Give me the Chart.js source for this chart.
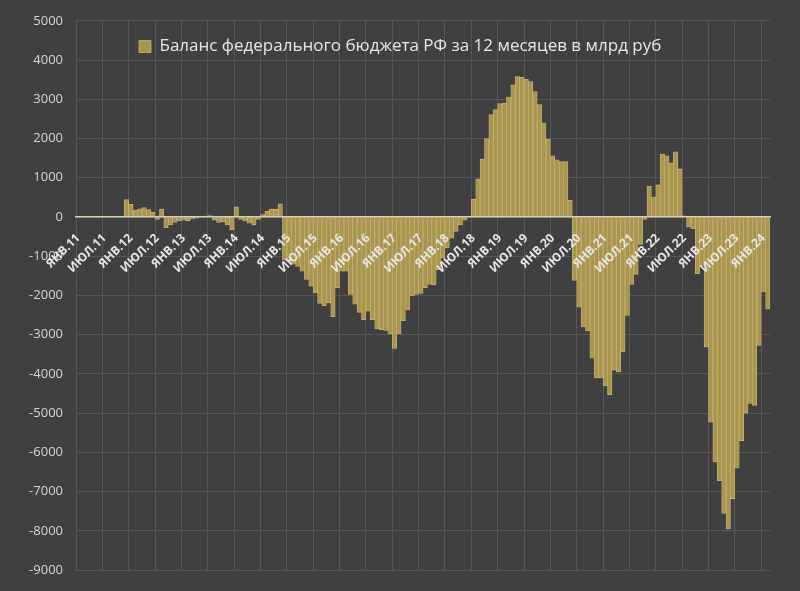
<!DOCTYPE html>
<html>
<head>
<meta charset="utf-8">
<script src="https://cdn.jsdelivr.net/npm/chart.js@4"></script>
<style>
  html, body { margin: 0; padding: 0; background: #404040; }
  #wrap { width: 800px; height: 591px; }
</style>
</head>
<body>
<div id="wrap"><canvas id="budget" width="800" height="591"></canvas></div>
<script>
// months / years for the category axis
const MONTHS = ['ЯНВ', 'ФЕВ', 'МАР', 'АПР', 'МАЙ', 'ИЮН', 'ИЮЛ', 'АВГ', 'СЕН', 'ОКТ', 'НОЯ', 'ДЕК'];
const YEARS = ['11', '12', '13', '14', '15', '16', '17', '18', '19', '20', '21', '22', '23', '24'];
const LAST_MONTH = 2; // data ends in feb 2024

// 12-month federal budget balance, bn rub (jan 2011 .. feb 2024)
const y2011 = [null, null, null, null, null, null, null, null, null, null, null, 444];
const y2012 = [326, 175, 208, 242, 192, 120, -60, 200, -270, -200, -140, -100];
const y2013 = [-80, -90, -50, -30, 10, 25, 35, -80, -140, -120, -200, -320];
const y2014 = [260, -60, -100, -160, -200, -60, 65, 150, 200, 200, 335, -1100];
const y2015 = [-1130, -1200, -1260, -1380, -1590, -1760, -1930, -2200, -2260, -2180, -2540, -1800];
const y2016 = [-1380, -1380, -1970, -2220, -2430, -2620, -2400, -2620, -2850, -2870, -2890, -2980];
const y2017 = [-3350, -2980, -2640, -2370, -2010, -1970, -1950, -1800, -1720, -1730, -1340, -1040];
const y2018 = [-790, -540, -370, -200, -80, 0, 452, 973, 1477, 1998, 2611, 2737];
const y2019 = [2888, 2905, 3056, 3367, 3577, 3560, 3510, 3451, 3199, 2863, 2401, 1981];
const y2020 = [1561, 1460, 1410, 1410, 427, -1614, -2300, -2800, -2900, -3600, -4100, -4100];
const y2021 = [-4300, -4530, -3900, -3950, -3440, -2510, -1715, -1460, -700, -60, 788, 511];
const y2022 = [822, 1603, 1561, 1376, 1662, 1225, 30, -260, -300, -1446, -1253, -3311];
const y2023 = [-5226, -6240, -6720, -7553, -7948, -7175, -6400, -5700, -5000, -4750, -4800, -3269];
const y2024 = [-1908, -2345];

const balance = [].concat(y2011, y2012, y2013, y2014, y2015, y2016, y2017,
  y2018, y2019, y2020, y2021, y2022, y2023, y2024);

const categories = [];
YEARS.forEach((yy, k) => {
  MONTHS.forEach((m, j) => {
    if (k === YEARS.length - 1 && j >= LAST_MONTH) return;
    categories.push(m + '.' + yy);
  });
});

const LABEL_STEP = 6; // only jan and jul are labelled
const seriesName = 'Баланс федерального бюджета РФ за 12 месяцев в млрд руб';

const barFill = '#aa954f';
const barEdge = '#c6b577';
const gridCol = '#575757';
const textCol = '#e6e6e6';

// put the legend inside the plot, like in the excel chart
const legendInPlot = {
  id: 'legendInPlot',
  afterLayout(chart) {
    const lg = chart.legend;
    if (!lg) return;
    const w = lg.width, h = lg.height;
    lg.left = 129;
    lg.top = 28;
    lg.right = lg.left + w;
    lg.bottom = lg.top + h;
  }
};

new Chart(document.getElementById('budget'), {
  type: 'bar',
  data: {
    labels: categories,
    datasets: [{
      label: seriesName,
      data: balance,
      backgroundColor: barFill,
      borderColor: barEdge,
      borderWidth: 0.8,
      borderSkipped: false,
      barPercentage: 1,
      categoryPercentage: 1
    }]
  },
  options: {
    responsive: false,
    animation: false,
    layout: { padding: { left: 0, right: 30, top: 20, bottom: 15 } },
    plugins: {
      tooltip: { enabled: false },
      legend: {
        position: 'chartArea',
        align: 'start',
        labels: {
          color: textCol,
          boxWidth: 12,
          boxHeight: 12,
          padding: 10,
          font: { family: 'Open Sans', size: 17 }
        }
      }
    },
    scales: {
      x: {
        position: { y: 0 },
        grid: {
          offset: true,
          drawTicks: false,
          color: (c) => (c.index % LABEL_STEP === 0 ? gridCol : 'transparent'),
          lineWidth: 1
        },
        // zero line and month labels go over the bars
        border: { display: true, color: '#d8cfb4', width: 1.5, z: 1 },
        ticks: {
          z: 1,
          autoSkip: false,
          minRotation: 45,
          maxRotation: 45,
          padding: 14,
          color: textCol,
          font: { family: 'Open Sans', size: 12, weight: 'bold' },
          callback: (v, i) => (i % LABEL_STEP === 0 ? categories[i] : '')
        }
      },
      y: {
        min: -9000,
        max: 5000,
        afterFit: (s) => { s.width = 76; },
        grid: { color: gridCol, drawTicks: false, lineWidth: 1 },
        border: { display: false },
        ticks: {
          stepSize: 1000,
          padding: 13,
          color: '#d4d4d4',
          font: { family: 'Open Sans', size: 13 },
          callback: (v) => String(v)
        }
      }
    }
  },
  plugins: [legendInPlot]
});
</script>
</body>
</html>
